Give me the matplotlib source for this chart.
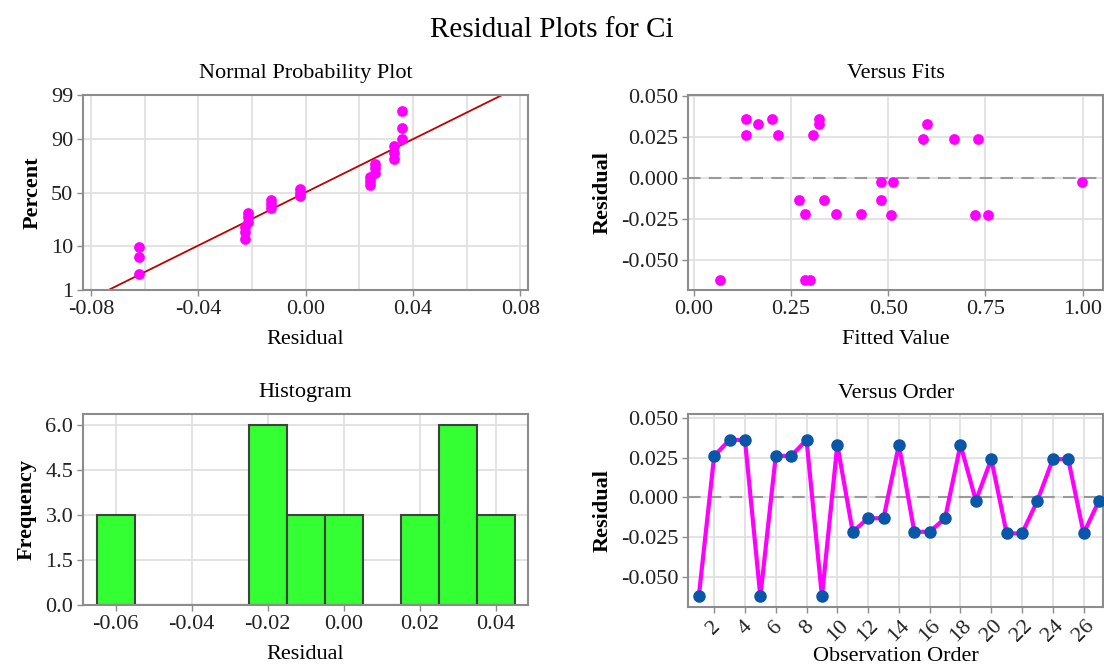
import numpy as np
import matplotlib
matplotlib.use('Agg')
import matplotlib.pyplot as plt
from statistics import NormalDist

# 残差数据 (按观测顺序)
order = list(range(1, 28))
residual = [-0.062, 0.026, 0.036, 0.036, -0.062, 0.026, 0.026, 0.036, -0.062, 0.033,
            -0.0215, -0.013, -0.013, 0.033, -0.0215, -0.0215, -0.013, 0.033, -0.002, 0.024,
            -0.0225, -0.0225, -0.002, 0.024, 0.024, -0.0225, -0.002]
fitted = [0.067, 0.135, 0.135, 0.200, 0.287, 0.216, 0.307, 0.322, 0.298, 0.164,
          0.287, 0.271, 0.334, 0.322, 0.365, 0.431, 0.481, 0.600, 0.481, 0.588,
          0.508, 0.722, 0.512, 0.670, 0.732, 0.757, 0.998]
hist_bins = [-0.065, -0.055, -0.045, -0.035, -0.025, -0.015, -0.005, 0.005, 0.015, 0.025, 0.035, 0.045]
pct_ticks = [1, 10, 50, 90, 99]

font = {'family': 'Liberation Serif', 'size': 16}
matplotlib.rc('font', **font)

GRID = '#e0e0e0'
SPINE = '#8c8c8c'
MAG = '#ff00ff'

fig = plt.figure(figsize=(11.04, 6.7), dpi=100)
fig.suptitle('Residual Plots for Ci', fontsize=21, y=0.975)

ax1 = fig.add_axes([0.0752, 0.567, 0.4028, 0.291])
ax2 = fig.add_axes([0.6236, 0.567, 0.3754, 0.291])
ax3 = fig.add_axes([0.0752, 0.0963, 0.4028, 0.2857])
ax4 = fig.add_axes([0.6236, 0.094, 0.3754, 0.2875])


def style(ax):
    for s in ax.spines.values():
        s.set_color(SPINE)
        s.set_linewidth(1.5)
    ax.tick_params(colors=SPINE, labelcolor='#222222', length=4, width=1, pad=3)
    ax.set_axisbelow(True)


nd = NormalDist()
res = np.array(residual)
n = len(res)

# 正态概率图
_ppf = np.vectorize(lambda v: nd.inv_cdf(v / 100.0), otypes=[float])
_cdf = np.vectorize(lambda v: nd.cdf(v) * 100.0, otypes=[float])


def fwd(p):
    p = np.clip(np.asarray(p, dtype=float), 1e-6, 100 - 1e-6)
    return _ppf(p)


def inv(z):
    return _cdf(np.asarray(z, dtype=float))


ax1.set_yscale('function', functions=(fwd, inv))
sr = np.sort(res)
pct = (np.arange(1, n + 1) - 0.3) / (n + 0.4) * 100
mu, sd = res.mean(), res.std(ddof=1)
lp = np.array([0.5, 99.5])
lx = [mu + sd * nd.inv_cdf(p / 100) for p in lp]
ax1.plot(lx, lp, color='#c00000', lw=1.3, zorder=2)
ax1.scatter(sr, pct, s=60, color=MAG, zorder=3, linewidths=0)
ax1.set_ylim(1, 99)
ax1.set_yticks(pct_ticks)
ax1.set_yticklabels([str(t) for t in pct_ticks])
ax1.yaxis.set_minor_locator(matplotlib.ticker.NullLocator())
ax1.set_xlim(-0.083, 0.0828)
ax1.set_xticks([-0.08, -0.04, 0.0, 0.04, 0.08])
ax1.set_xticklabels(['-0.08', '-0.04', '0.00', '0.04', '0.08'])
for gx in np.arange(-0.08, 0.081, 0.02):
    ax1.axvline(gx, color=GRID, lw=1.3, zorder=0)
for gy in [10, 50, 90]:
    ax1.axhline(gy, color=GRID, lw=1.3, zorder=0)
ax1.set_title('Normal Probability Plot', fontsize=16, pad=12)
ax1.set_xlabel('Residual', labelpad=8)
ax1.set_ylabel('Percent', fontweight='bold', labelpad=6)
style(ax1)

# 残差与拟合值
ax2.scatter(fitted, residual, s=60, color=MAG, zorder=3, linewidths=0)
ax2.axhline(0, color='#999999', lw=1.5, ls=(0, (6, 4)), zorder=1)
ax2.set_xlim(-0.014, 1.052)
ax2.set_ylim(-0.068, 0.0505)
ax2.set_xticks([0.0, 0.25, 0.5, 0.75, 1.0])
ax2.set_xticklabels(['0.00', '0.25', '0.50', '0.75', '1.00'])
ax2.set_yticks([-0.05, -0.025, 0.0, 0.025, 0.05])
ax2.set_yticklabels(['-0.050', '-0.025', '0.000', '0.025', '0.050'])
ax2.grid(color=GRID, lw=1.3)
ax2.set_title('Versus Fits', fontsize=16, pad=12)
ax2.set_xlabel('Fitted Value', labelpad=8)
ax2.set_ylabel('Residual', fontweight='bold', labelpad=6)
style(ax2)

# 直方图
ax3.hist(residual, bins=hist_bins, color='#33ff33', edgecolor='#404040', linewidth=1.5, zorder=2)
ax3.set_xlim(-0.0686, 0.0484)
ax3.set_ylim(0, 6.38)
ax3.set_xticks([-0.06, -0.04, -0.02, 0.0, 0.02, 0.04])
ax3.set_xticklabels(['-0.06', '-0.04', '-0.02', '0.00', '0.02', '0.04'])
ax3.set_yticks([0, 1.5, 3.0, 4.5, 6.0])
ax3.set_yticklabels(['0.0', '1.5', '3.0', '4.5', '6.0'])
ax3.grid(color=GRID, lw=1.3)
ax3.set_title('Histogram', fontsize=16, pad=12)
ax3.set_xlabel('Residual', labelpad=8)
ax3.set_ylabel('Frequency', fontweight='bold', labelpad=6)
style(ax3)

# 残差与观测顺序
ax4.plot(order, residual, color=MAG, lw=3, zorder=2)
ax4.plot(order, residual, 'o', color='#0a56a8', ms=8, zorder=3)
ax4.axhline(0, color='#999999', lw=1.5, ls=(0, (6, 4)), zorder=1)
ax4.set_xlim(0.33, 27.25)
ax4.set_ylim(-0.0686, 0.052)
ax4.set_xticks(list(range(2, 27, 2)))
ax4.set_xticklabels([str(i) for i in range(2, 27, 2)], rotation=45, ha='center', va='top')
ax4.set_yticks([-0.05, -0.025, 0.0, 0.025, 0.05])
ax4.set_yticklabels(['-0.050', '-0.025', '0.000', '0.025', '0.050'])
ax4.grid(color=GRID, lw=1.3)
ax4.set_title('Versus Order', fontsize=16, pad=12)
ax4.set_xlabel('Observation Order', labelpad=1)
ax4.set_ylabel('Residual', fontweight='bold', labelpad=6)
style(ax4)

plt.savefig('out.png', dpi=100)
